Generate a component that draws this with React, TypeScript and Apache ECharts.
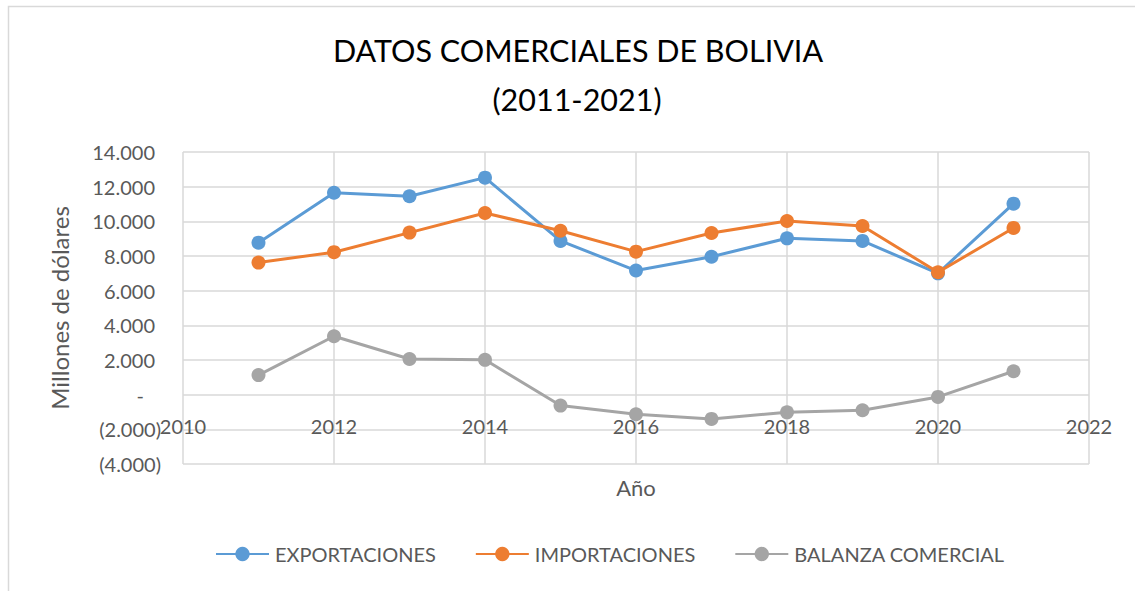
import React, { useEffect, useRef } from "react";
import * as echarts from "echarts";

const years = [2011, 2012, 2013, 2014, 2015, 2016, 2017, 2018, 2019, 2020, 2021];
const exportaciones = [8770, 11650, 11450, 12520, 8870, 7160, 7960, 9020, 8870, 7000, 11020];
const importaciones = [7620, 8220, 9350, 10480, 9460, 8250, 9330, 10020, 9730, 7060, 9620];
const balanza = [1130, 3370, 2060, 2010, -630, -1130, -1400, -1020, -900, -130, 1350];

const seriesNames = ["EXPORTACIONES", "IMPORTACIONES", "BALANZA COMERCIAL"];
const seriesColors = ["#5B9BD5", "#ED7D31", "#A5A5A5"];
const titleLines = ["DATOS COMERCIALES DE BOLIVIA", "(2011-2021)"];

const FONT = 'Lato, "Noto Sans", sans-serif';

function fmtThousands(v: number): string {
  return String(Math.round(v)).replace(/\B(?=(\d{3})+(?!\d))/g, ".");
}

export default function App() {
  const ref = useRef<HTMLDivElement>(null);
  useEffect(() => {
    document.body.style.margin = "0";
    if (!ref.current) return;
    const chart = echarts.init(ref.current, null, { renderer: "svg" });
    const dataSets = [exportaciones, importaciones, balanza];
    chart.setOption({
      animation: false,
      backgroundColor: "#ffffff",
      textStyle: { fontFamily: FONT },
      graphic: [
        {
          type: "rect",
          shape: { x: 8.5, y: 6.5, width: 1140, height: 600 },
          style: { fill: "none", stroke: "#d9d9d9", lineWidth: 1.5 },
          silent: true,
          z: -10,
        },
        {
          type: "text",
          x: 578,
          y: 50,
          style: {
            text: titleLines[0],
            fontFamily: FONT,
            fontSize: 30.5,
            fill: "#000000",
            align: "center",
            verticalAlign: "middle",
          },
        },
        {
          type: "text",
          x: 577,
          y: 98.5,
          style: {
            text: titleLines[1],
            fontFamily: FONT,
            fontSize: 30.5,
            fill: "#000000",
            align: "center",
            verticalAlign: "middle",
          },
        },
      ],
      grid: { left: 183, top: 152, right: 46, bottom: 127, containLabel: false },
      legend: {
        data: seriesNames,
        left: 215,
        top: 544,
        padding: 0,
        itemWidth: 53,
        itemHeight: 18,
        itemGap: 39,
        textStyle: { fontFamily: FONT, fontSize: 20, color: "#595959", padding: [0, 0, 0, 1] },
      },
      xAxis: {
        type: "value",
        min: 2010,
        max: 2022,
        interval: 2,
        axisLine: { show: false },
        axisTick: { show: false },
        splitLine: { show: true, lineStyle: { color: "#d9d9d9", width: 1.5 } },
        axisLabel: {
          margin: -48,
          fontFamily: FONT,
          fontSize: 20,
          color: "#595959",
          formatter: (v: number) => String(v),
        },
        name: "Año",
        nameLocation: "middle",
        nameGap: 12,
        nameTextStyle: { fontFamily: FONT, fontSize: 22, color: "#595959" },
      },
      yAxis: {
        type: "value",
        min: -4000,
        max: 14000,
        interval: 2000,
        axisLine: { show: false },
        axisTick: { show: false },
        splitLine: { show: true, lineStyle: { color: "#d9d9d9", width: 1.5 } },
        axisLabel: {
          margin: 22,
          fontFamily: FONT,
          fontSize: 20,
          color: "#595959",
          formatter: (v: number) => {
            if (v === 0) return "{z|-}";
            if (v < 0) return "{n|(" + fmtThousands(-v) + ")}";
            return "{p|" + fmtThousands(v) + "}";
          },
          rich: {
            z: { fontFamily: FONT, fontSize: 20, color: "#595959", padding: [0, 17, 0, 0] },
            n: { fontFamily: FONT, fontSize: 20, color: "#595959" },
            p: { fontFamily: FONT, fontSize: 20, color: "#595959", padding: [0, 6, 0, 0] },
          },
        },
        name: "Millones de dólares",
        nameLocation: "middle",
        nameRotate: 90,
        nameGap: 112,
        nameTextStyle: { fontFamily: FONT, fontSize: 24, color: "#595959" },
      },
      series: seriesNames.map((name, i) => ({
        name,
        type: "line",
        data: years.map((y, k) => [y, dataSets[i][k]]),
        symbol: "circle",
        symbolSize: 14,
        showSymbol: true,
        lineStyle: { color: seriesColors[i], width: 3 },
        itemStyle: { color: seriesColors[i] },
        z: 3 + i,
      })),
    });
    return () => chart.dispose();
  }, []);
  return <div ref={ref} style={{ width: 1135, height: 591 }} />;
}
